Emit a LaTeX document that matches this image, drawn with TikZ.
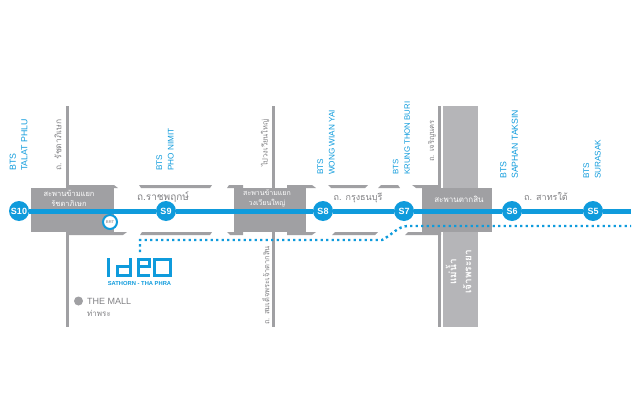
\documentclass[tikz,border=0pt]{standalone}
\usepackage{fontspec}
\usetikzlibrary{backgrounds}
\setmainfont{Liberation Sans}
\newfontfamily\thaifont[Script=Thai]{Loma}
\definecolor{btsblue}{HTML}{0F9BDC}
\definecolor{roadgray}{HTML}{A0A0A3}
\definecolor{rivergray}{HTML}{B5B5B8}
\definecolor{labelgray}{HTML}{808083}
\tikzset{
  station/.style={circle, fill=btsblue, text=white, minimum size=20pt, inner sep=0pt, font=\fontsize{9}{9}\selectfont\bfseries},
  btslabel/.style={rotate=90, anchor=west, text=btsblue, align=left, inner sep=0pt, font=\fontsize{8.2}{11.5}\selectfont},
  roadlabel/.style={text=labelgray, inner sep=0pt, font=\fontsize{7.5}{10}\selectfont\thaifont},
  bridgelabel/.style={text=white, align=center, inner sep=0pt, font=\fontsize{7.5}{10}\selectfont\thaifont},
  road/.style={fill=roadgray, draw=none},
  dotline/.style={btsblue, line width=2.4pt, dash pattern=on 2.4pt off 3.1pt}
}
\begin{document}
\begin{tikzpicture}[x=1pt, y=-1pt]
  \useasboundingbox (0,0) rectangle (640,412);

  \begin{pgfonlayer}{background}
  % River
  \fill[rivergray] (443,106) rectangle (478,327);

  % Cross roads
  \fill[road] (66,106) rectangle (69,327);
  \fill[road] (271.5,106) rectangle (274.5,327);
  \fill[road] (438,106) rectangle (441,327);

  % Bridges
  \fill[road] (31,188) rectangle (114,232);
  \fill[road] (234,188) rectangle (306,232);
  \fill[road] (422,188) rectangle (492,232);

  % Road edges, top
  \fill[road] (67,185) -- (114,185) -- (118,188) -- (67,188) -- cycle;
  \fill[road] (139,185) -- (212,185) -- (210,188) -- (141,188) -- cycle;
  \fill[road] (227,188) -- (229,185) -- (243,185) -- (243,188) -- cycle;
  \fill[road] (287,188) -- (287,185) -- (312,185) -- (316,188) -- cycle;
  \fill[road] (328,185) -- (368,185) -- (365,188) -- (331,188) -- cycle;
  \fill[road] (378,188) -- (381,185) -- (398,185) -- (400,188) -- cycle;
  \fill[road] (412,185) -- (438,185) -- (438,188) -- (416,188) -- cycle;

  % Road edges, bottom
  \fill[road] (67,232) -- (127,232) -- (123,235) -- (67,235) -- cycle;
  \fill[road] (140,235) -- (142,232) -- (212,232) -- (210,235) -- cycle;
  \fill[road] (227,232) -- (243,232) -- (243,235) -- (230,235) -- cycle;
  \fill[road] (287,232) -- (316,232) -- (312,235) -- (287,235) -- cycle;
  \fill[road] (332,235) -- (335,232) -- (378,232) -- (375,235) -- cycle;
  \fill[road] (405,235) -- (408,232) -- (441,232) -- (441,235) -- cycle;
  \end{pgfonlayer}

  % Stations
  \node[station] (s10) at (19,211) {S10};
  \node[station] (s9) at (166,211) {S9};
  \node[station] (s8) at (323,211) {S8};
  \node[station] (s7) at (404,211) {S7};
  \node[station] (s6) at (512,211) {S6};
  \node[station] (s5) at (593,211) {S5};
  \coordinate (lineend) at (631,211);

  % BTS line
  \begin{pgfonlayer}{background}
  \draw[btsblue, line width=5pt] (s10) -- (s9) -- (s8) -- (s7) -- (s6) -- (s5) -- (lineend);
  \end{pgfonlayer}

  % BRT stop
  \node[circle, draw=btsblue, line width=2pt, fill=white, minimum size=14pt, inner sep=0pt, text=roadgray, font=\fontsize{4}{4}\selectfont\bfseries] (brt) at (110,222) {BRT};

  % Dotted path
  \coordinate (dotstart) at (140,252);
  \coordinate (dotcorner) at (140,240);
  \coordinate (dotbend) at (382,240);
  \coordinate (dotflat) at (408,226);
  \coordinate (dotend) at (631,226);
  \draw[dotline] (dotstart) -- (dotcorner) -- (dotbend) .. controls (392,235) and (398,226) .. (dotflat) -- (dotend);

  % Station labels
  \node[btslabel, font=\fontsize{8.8}{11.5}\selectfont] (talat) at (18.5,171) {BTS\\TALAT PHLU};
  \node[btslabel] (phonimit) at (165,171) {BTS\\PHO NIMIT};
  \node[btslabel] (wongwian) at (326,175) {BTS\\WONG WIAN YAI};
  \node[btslabel, font=\fontsize{7.8}{11.5}\selectfont] (krung) at (401.5,175) {BTS\\KRUNG THON BURI};
  \node[btslabel, font=\fontsize{8.7}{11.5}\selectfont] (saphan) at (509,179) {BTS\\SAPHAN TAKSIN};
  \node[btslabel] (surasak) at (592,179) {BTS\\SURASAK};

  % Road labels
  \node[roadlabel, rotate=90, anchor=west, font=\fontsize{8.5}{10}\selectfont\thaifont] (ratchada) at (58,171) {ถ. รัชดาภิเษก};
  \node[roadlabel, rotate=90, anchor=west] (wongwianroad) at (265,167) {ไปวงเวียนใหญ่};
  \node[roadlabel, rotate=90, anchor=west] (charoen) at (432,162) {ถ. เจริญนคร};
  \node[roadlabel, rotate=90, anchor=west] (somdet) at (266,325) {ถ. สมเด็จพระเจ้าตากสิน};
  \node[roadlabel, font=\fontsize{10}{10}\selectfont\thaifont] (ratchaphruek) at (163,197) {ถ.ราชพฤกษ์};
  \node[roadlabel, font=\fontsize{9}{10}\selectfont\thaifont] (krungthon) at (358,198) {ถ. กรุงธนบุรี};
  \node[roadlabel, font=\fontsize{9}{10}\selectfont\thaifont] (sathorn) at (546,196) {ถ. สาทรใต้};

  % Bridge labels
  \node[bridgelabel] (bridgeone) at (69,198.5) {สะพานข้ามแยก\\รัชดาภิเษก};
  \node[bridgelabel, font=\fontsize{7}{10}\selectfont\thaifont] (bridgetwo) at (267,198) {สะพานข้ามแยก\\วงเวียนใหญ่};
  \node[bridgelabel, font=\fontsize{8}{10}\selectfont\thaifont] (bridgethree) at (459,199) {สะพานตากสิน};
  \node[bridgelabel, rotate=90, font=\fontsize{10}{15}\selectfont\thaifont\bfseries] (river) at (458.5,272) {แม่น้ำ\\เจ้าพระยา};

  % Logo
  \draw[btsblue, line width=3pt] (108.5,258) -- (108.5,277);
  \draw[btsblue, line width=3pt] (130,258) -- (130,275.5) -- (117,275.5) -- (117,266) -- (130,266);
  \draw[btsblue, line width=3pt] (138,266.5) -- (149,266.5) -- (149,259.5) -- (138,259.5) -- (138,275.5) -- (150,275.5);
  \draw[btsblue, line width=3pt] (154.5,259.5) rectangle (170.5,275.5);
  \node[text=btsblue, inner sep=0pt, font=\fontsize{5.8}{6}\selectfont\bfseries] (subtitle) at (139.5,284) {SATHORN - THA PHRA};

  % The Mall
  \node[circle, fill=roadgray, minimum size=9pt, inner sep=0pt] (mall) at (78.5,301) {};
  \node[text=labelgray, anchor=west, inner sep=0pt, font=\fontsize{9}{9}\selectfont] (malltext) at (87,301) {THE MALL};
  \node[roadlabel, anchor=west, font=\fontsize{8}{8}\selectfont\thaifont] (thapra) at (87,313) {ท่าพระ};
\end{tikzpicture}
\end{document}
